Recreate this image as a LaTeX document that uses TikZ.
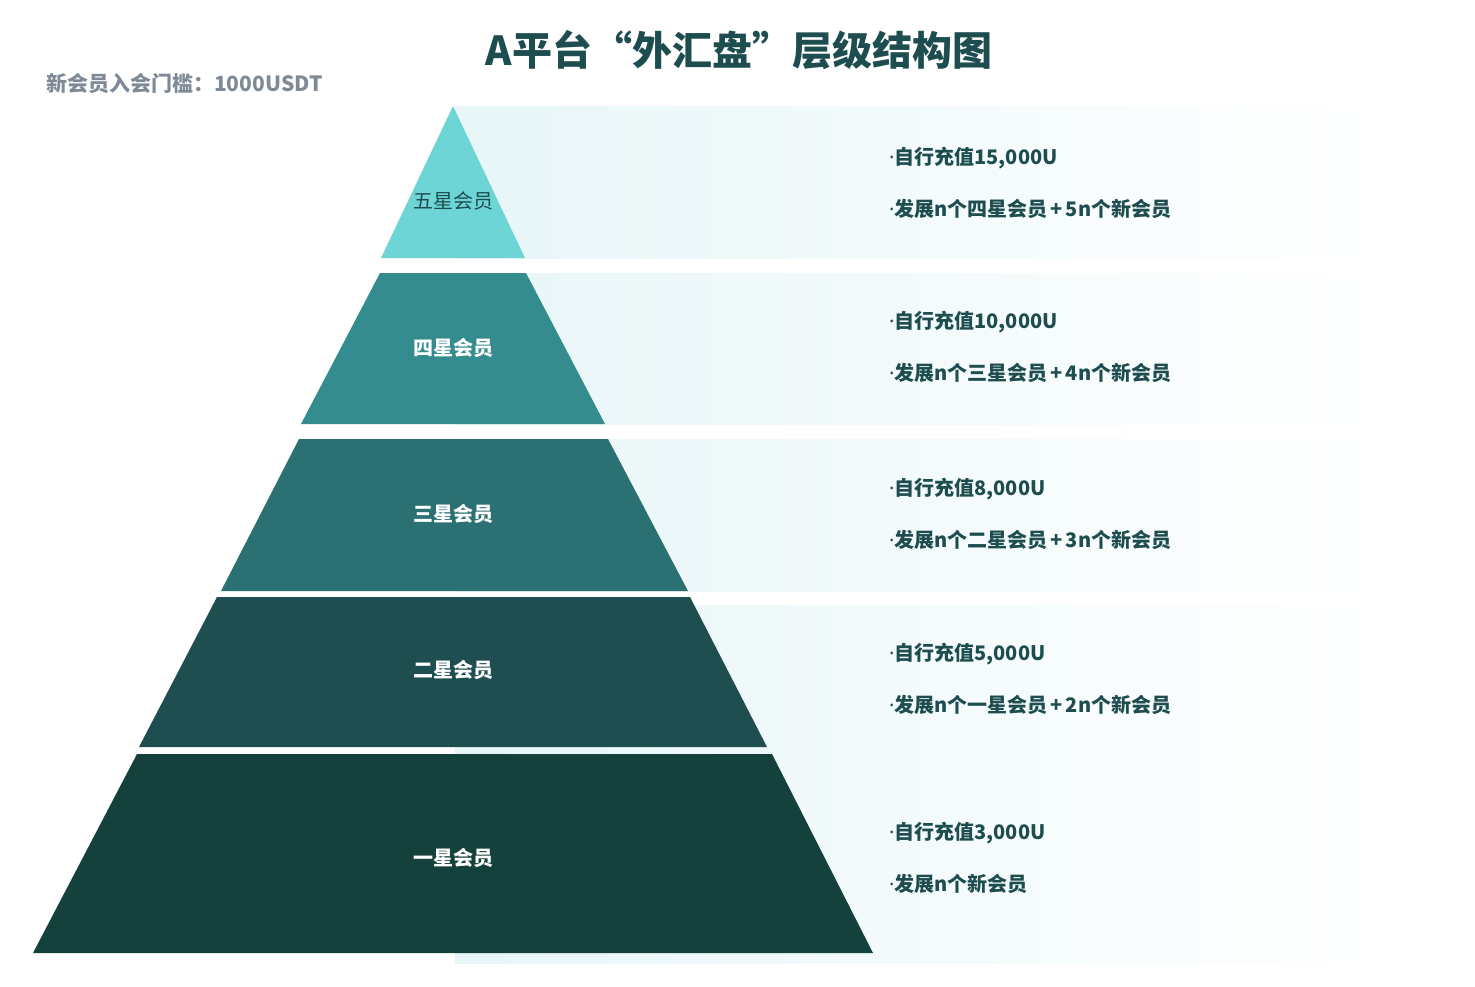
\documentclass[tikz,border=0pt]{standalone}
\usepackage{fontspec}
\setmainfont{Noto Sans CJK SC}
\newfontfamily\dotfont{Noto Sans}
\usetikzlibrary{positioning}
\definecolor{darkteal}{HTML}{1E4D4F}
\definecolor{greytext}{HTML}{7F8A96}
\definecolor{bandc}{HTML}{E8F6F8}
\definecolor{starfive}{HTML}{6ED5D7}
\definecolor{starfour}{HTML}{358C8E}
\definecolor{starthree}{HTML}{2B7072}
\definecolor{startwo}{HTML}{1F4E50}
\definecolor{starone}{HTML}{15413D}
\newcommand{\pt}{{\dotfont\bfseries ·}}
\newcommand{\plus}{\kern3pt+\kern3pt}

\begin{document}
\begin{tikzpicture}[x=1pt,y=-1pt,node distance=51pt,
    band/.style={left color=bandc,middle color=bandc!75!white,right color=white},
    tier/.style={font=\bfseries\fontsize{20}{24}\selectfont,text=white},
    desc/.style={anchor=west,inner sep=0pt,font=\bfseries\fontsize{20}{24}\selectfont,text=darkteal}]

  \useasboundingbox (0,0) rectangle (1475,987);

  \node[font=\bfseries\fontsize{40}{48}\selectfont,text=darkteal] (title) at (739,50) {A平台“外汇盘”层级结构图};
  \node[anchor=west,inner sep=0pt,font=\bfseries\fontsize{21}{25}\selectfont,text=greytext] (entry) at (46,84) {新会员入会门槛：1000USDT};

  % light bands behind the levels
  \fill[band] (455,107) rectangle (1380,258);
  \fill[band] (455,273) rectangle (1380,424);
  \fill[band] (455,439) rectangle (1380,591);
  \fill[band] (455,605) rectangle (1380,753);
  \fill[band] (455,753) rectangle (1380,963);

  % pyramid levels
  \fill[starfive]  (453,106) -- (525,258) -- (381,258) -- cycle;
  \fill[starfour]  (380,273) -- (526,273) -- (605,424) -- (301,424) -- cycle;
  \fill[starthree] (299,439) -- (608,439) -- (688,591) -- (221,591) -- cycle;
  \fill[startwo]   (217,597) -- (690,597) -- (767,747) -- (139,747) -- cycle;
  \fill[starone]   (137,754) -- (772,754) -- (873,953) -- (33,953) -- cycle;

  \node[tier,font=\fontsize{20}{24}\selectfont,text=darkteal] (five) at (453,201) {五星会员};
  \node[tier] (four)  at (453,348) {四星会员};
  \node[tier] (three) at (453,514) {三星会员};
  \node[tier] (two)   at (453,670) {二星会员};
  \node[tier] (one)   at (453,858) {一星会员};

  \node[desc] (fiveA) at (889,158) {\pt 自行充值15,000U};
  \node[desc] (fiveB) [below=51pt of fiveA.west,anchor=west] {\pt 发展n个四星会员\plus 5n个新会员};
  \node[desc] (fourA) at (889,322) {\pt 自行充值10,000U};
  \node[desc] (fourB) [below=51pt of fourA.west,anchor=west] {\pt 发展n个三星会员\plus 4n个新会员};
  \node[desc] (threeA) at (889,489) {\pt 自行充值8,000U};
  \node[desc] (threeB) [below=51pt of threeA.west,anchor=west] {\pt 发展n个二星会员\plus 3n个新会员};
  \node[desc] (twoA) at (889,654) {\pt 自行充值5,000U};
  \node[desc] (twoB) [below=51pt of twoA.west,anchor=west] {\pt 发展n个一星会员\plus 2n个新会员};
  \node[desc] (oneA) at (889,833) {\pt 自行充值3,000U};
  \node[desc] (oneB) [below=51pt of oneA.west,anchor=west] {\pt 发展n个新会员};

\end{tikzpicture}
\end{document}
